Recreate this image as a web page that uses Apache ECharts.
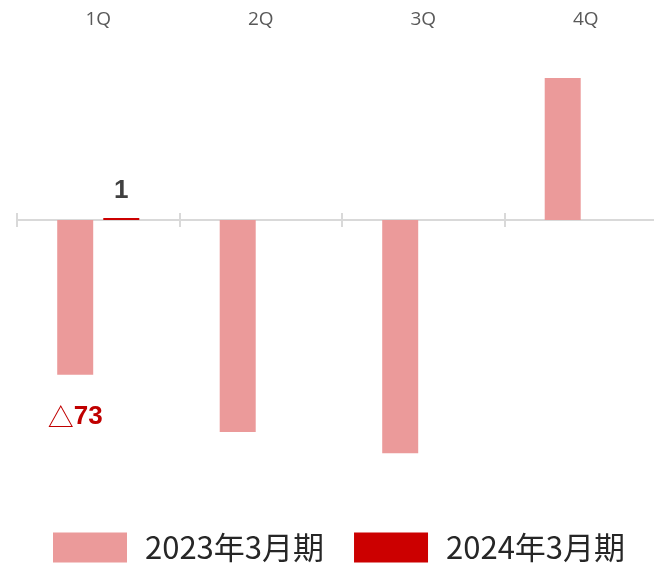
<!DOCTYPE html>
<html><head><meta charset="utf-8">
<script src="https://cdn.jsdelivr.net/npm/echarts@6/dist/echarts.min.js"></script>
<style>html,body{margin:0;padding:0;background:#fff}#c{width:654px;height:565px}</style>
</head><body><div id="c"></div>
<script>
var categories = ['1Q', '2Q', '3Q', '4Q'];
var seriesNames = ['2023年3月期', '2024年3月期'];
var values2023 = [-73, -100, -110, 67];
var values2024 = [1, null, null, null];
var labels2023 = ['△73', '', '', ''];
var labels2024 = ['1', '', '', ''];

var chart = echarts.init(document.getElementById('c'), null, {renderer: 'canvas'});
function g() { return {left: 17, width: 650, top: 8, height: 508.8, containLabel: false, outerBoundsMode: 'none'}; }
function ya(i) { return {type: 'value', gridIndex: i, min: -140, max: 100, show: false, splitLine: {show: false}}; }
chart.setOption({
  animation: false,
  grid: [g(), g(), g()],
  legend: {
    left: 53, top: 532, padding: 0,
    itemWidth: 74, itemHeight: 30, itemGap: 30,
    icon: 'rect',
    textStyle: {fontSize: 31, color: '#262626', fontFamily: 'Noto Sans CJK JP', padding: [0, 0, 0, 13]},
    data: seriesNames
  },
  xAxis: [
    {type: 'category', gridIndex: 0, data: categories, position: 'bottom',
     axisLine: {onZero: true, lineStyle: {color: '#d9d9d9', width: 2}},
     axisTick: {show: true, length: 7, lineStyle: {color: '#d9d9d9', width: 2}},
     axisLabel: {show: false}},
    {type: 'category', gridIndex: 1, data: categories, position: 'top',
     axisLine: {show: false, onZero: false}, axisTick: {show: false},
     axisLabel: {margin: -21, fontSize: 19, color: '#595959', fontFamily: 'Open Sans'}},
    {type: 'category', gridIndex: 2, data: categories, position: 'bottom',
     axisLine: {show: false, onZero: true},
     axisTick: {show: true, inside: true, length: 7, lineStyle: {color: '#d9d9d9', width: 2}},
     axisLabel: {show: false}}
  ],
  yAxis: [ya(0), ya(1), ya(2)],
  series: [
    {name: seriesNames[0], type: 'bar', xAxisIndex: 0, yAxisIndex: 0, data: values2023,
     barWidth: 36, barGap: '28%',
     itemStyle: {color: '#EB9A9A'},
     label: {show: true, position: 'bottom', distance: 29,
       formatter: function (p) { var t = labels2023[p.dataIndex]; return t ? '{t|△}{n|' + t.slice(1) + '}' : ''; },
       rich: {t: {fontSize: 26, color: '#C00000', fontFamily: 'Noto Sans CJK JP'},
              n: {fontSize: 26, color: '#C00000', fontWeight: 'bold', fontFamily: 'Liberation Sans'}}}},
    {name: seriesNames[1], type: 'bar', xAxisIndex: 0, yAxisIndex: 0, data: values2024,
     barWidth: 36,
     itemStyle: {color: '#CC0000'},
     label: {show: true, position: 'top', distance: 14, fontSize: 26, fontWeight: 'bold', color: '#404040', fontFamily: 'Liberation Sans',
       formatter: function (p) { return labels2024[p.dataIndex]; }}}
  ]
});
</script></body></html>
